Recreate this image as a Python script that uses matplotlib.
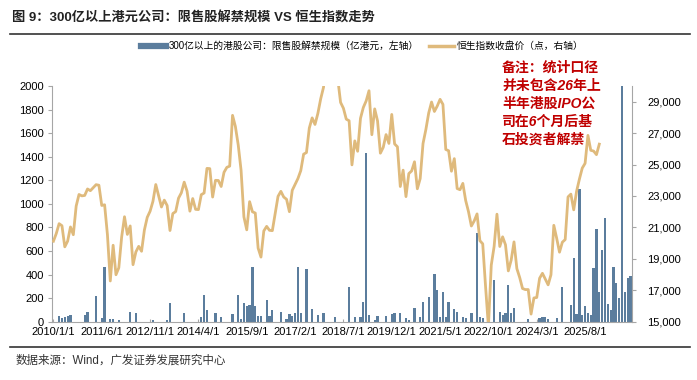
import matplotlib
matplotlib.use("Agg")
import matplotlib.pyplot as plt
from matplotlib.lines import Line2D

plt.rcParams['font.family'] = ['Liberation Sans', 'Noto Sans CJK SC', 'DejaVu Sans']

# 月度类别：2010/1 ~ 2026/12
months = [(2010 + i // 12, i % 12 + 1) for i in range(204)]
month_labels = [f"{y}/{m}/1" for y, m in months]

# 恒生指数月末收盘价（2010/1 ~ 2026/1）
hsi = [
    20122, 20609, 21239, 21109, 19765, 20129, 21030, 20536, 22358, 23096, 23008, 23035,
    23447, 23338, 23528, 23721, 23684, 22398, 22440, 20535, 17592, 19865, 17989, 18434,
    20390, 21680, 20556, 21094, 18629, 19441, 19796, 19483, 20840, 21642, 22030, 22657,
    23730, 23020, 22300, 22737, 22392, 20803, 21883, 22008, 22860, 23206, 23881, 23306,
    22035, 22837, 22151, 22134, 23082, 23191, 24757, 24742, 22933, 23998, 23987, 23605,
    24507, 24823, 24901, 28133, 27424, 26250, 24636, 21671, 20846, 22640, 21996, 21914,
    19683, 19112, 20777, 21067, 20815, 20794, 21891, 22977, 23297, 22935, 22790, 22001,
    23361, 23741, 24112, 24615, 25661, 25765, 27324, 27970, 27554, 28246, 29177, 29919,
    32887, 30845, 30093, 30808, 30469, 28955, 28583, 27889, 27789, 24980, 26507, 25846,
    27942, 28633, 29051, 29699, 26901, 28543, 27778, 25725, 26092, 26907, 26346, 28190,
    26313, 26130, 23603, 24644, 22961, 24427, 24595, 25177, 23459, 24107, 26341, 27231,
    28284, 28980, 28378, 28725, 29152, 28828, 25961, 25879, 24576, 25377, 23475, 23398,
    23802, 22713, 21997, 21089, 21415, 21860, 20157, 19954, 17223, 14687, 18597, 19781,
    21842, 19786, 20400, 19895, 18234, 18916, 20079, 18382, 17810, 17112, 17043, 17047,
    15485, 16511, 16541, 17763, 18080, 17719, 17345, 17989, 21134, 20317, 19424, 20060,
    20225, 22941, 23120, 22119, 23290, 24072, 24773, 25079, 26856, 25907, 25859, 25631,
    26300,
]

# 300亿以上港股公司限售股解禁规模（亿港元），按月份序号
unlock = {
    2: 50, 3: 35, 4: 40, 5: 45, 6: 55, 11: 55, 12: 80, 15: 215, 17: 30, 18: 460,
    20: 22, 21: 22, 23: 18, 27: 85, 29: 75, 35: 14, 40: 15, 41: 162, 46: 71,
    52: 37, 53: 225, 54: 99, 57: 75, 59: 40, 63: 63, 65: 225, 66: 22, 67: 156,
    68: 135, 69: 140, 70: 468, 71: 133, 72: 48, 73: 48, 75: 182, 76: 48, 77: 99,
    80: 85, 82: 20, 83: 68, 84: 48, 85: 75, 86: 468, 87: 77, 89: 448, 91: 112,
    93: 58, 95: 74, 99: 42, 104: 298, 106: 42, 108: 38, 109: 170, 110: 1430,
    111: 57, 113: 14, 114: 46, 117: 48, 119: 65, 120: 71, 122: 71, 124: 28,
    125: 14, 127: 120, 129: 42, 130: 170, 132: 207, 134: 403, 135: 270, 136: 43,
    137: 255, 138: 43, 139: 170, 141: 107, 142: 85, 144: 37, 145: 34, 147: 71,
    149: 752, 150: 43, 151: 28, 155: 355, 157: 85, 158: 60, 159: 71, 160: 312,
    161: 71, 162: 113, 167: 20, 171: 28, 172: 37, 173: 43, 174: 23, 177: 32,
    179: 298, 182: 142, 183: 544, 184: 65, 185: 1130, 186: 57, 187: 133, 188: 71,
    189: 57, 190: 454, 191: 786, 192: 250, 193: 610, 194: 880, 195: 148, 196: 100,
    197: 468, 198: 330, 199: 200, 200: 2400, 201: 250, 202: 370, 203: 390,
}
unlock_vals = [unlock.get(i, 0) for i in range(len(months))]

left_ticks = list(range(0, 2001, 200))
right_ticks = list(range(15000, 29001, 2000))

BLUE = '#5b7d9d'
TAN = '#dfba7c'
GRAY = '#a6a6a6'

fig = plt.figure(figsize=(6.97, 3.80), dpi=100)
ax = fig.add_axes([52 / 697, 1 - 321.7 / 380, 580 / 697, 235.7 / 380])

ax.bar(range(len(months)), unlock_vals, width=0.8, color=BLUE, zorder=2)
ax.set_ylim(0, 2000)
ax.set_yticks(left_ticks)
ax.set_xlim(-0.5, len(months) - 0.5)
xt = list(range(0, len(months), 17))
ax.set_xticks(xt)
ax.set_xticklabels([month_labels[i] for i in xt])
ax.tick_params(axis='x', direction='in', length=2.5, color=GRAY, labelsize=8, pad=4)
ax.tick_params(axis='y', direction='out', length=3, color=GRAY, labelsize=8, pad=3)
for s in ['top', 'right']:
    ax.spines[s].set_visible(False)
ax.spines['left'].set_color(GRAY)
ax.spines['bottom'].set_color(GRAY)

ax2 = ax.twinx()
ax2.plot(range(len(hsi)), hsi, color=TAN, lw=2.0, solid_joinstyle='round', zorder=3)
ax2.set_ylim(15000, 30000)
ax2.set_yticks(right_ticks)
ax2.set_yticklabels([f"{v:,}" for v in right_ticks])
ax2.tick_params(axis='y', direction='out', length=3, color=GRAY, labelsize=8, pad=8)
for s in ['top', 'left', 'bottom']:
    ax2.spines[s].set_visible(False)
ax2.spines['right'].set_color(GRAY)

# 标题与分隔线
fig.text(12 / 697, 1 - 18 / 380, "图 9：300亿以上港元公司：限售股解禁规模 VS 恒生指数走势",
         fontsize=9.5, fontweight='bold', va='center', ha='left', color='#222222')
fig.add_artist(Line2D([10 / 697, 690 / 697], [1 - 34 / 380, 1 - 34 / 380], color='#333333', lw=1.2))
fig.add_artist(Line2D([10 / 697, 690 / 697], [1 - 347 / 380, 1 - 347 / 380], color='#333333', lw=1.2))
fig.text(16 / 697, 1 - 361 / 380, "数据来源：Wind，广发证券发展研究中心",
         fontsize=8.3, va='center', ha='left', color='#333333')

handles = [Line2D([], [], color=BLUE, lw=4.5), Line2D([], [], color=TAN, lw=2.5)]
fig.legend(handles, ["300亿以上的港股公司：限售股解禁规模（亿港元，左轴）", "恒生指数收盘价（点，右轴）"],
           loc='center', bbox_to_anchor=(0.52, 1 - 46 / 380), ncol=2, frameon=False,
           fontsize=7, handlelength=2.6, handletextpad=0.3, columnspacing=1.0)

fig.text(502 / 697, 1 - 61 / 380, "备注：统计口径\n并未包含26年上\n半年港股IPO公\n司在6个月后基\n石投资者解禁",
         fontsize=10, fontweight='bold', style='italic', color='#c00000',
         va='top', ha='left', linespacing=1.35)

fig.savefig("out.png", dpi=100)
